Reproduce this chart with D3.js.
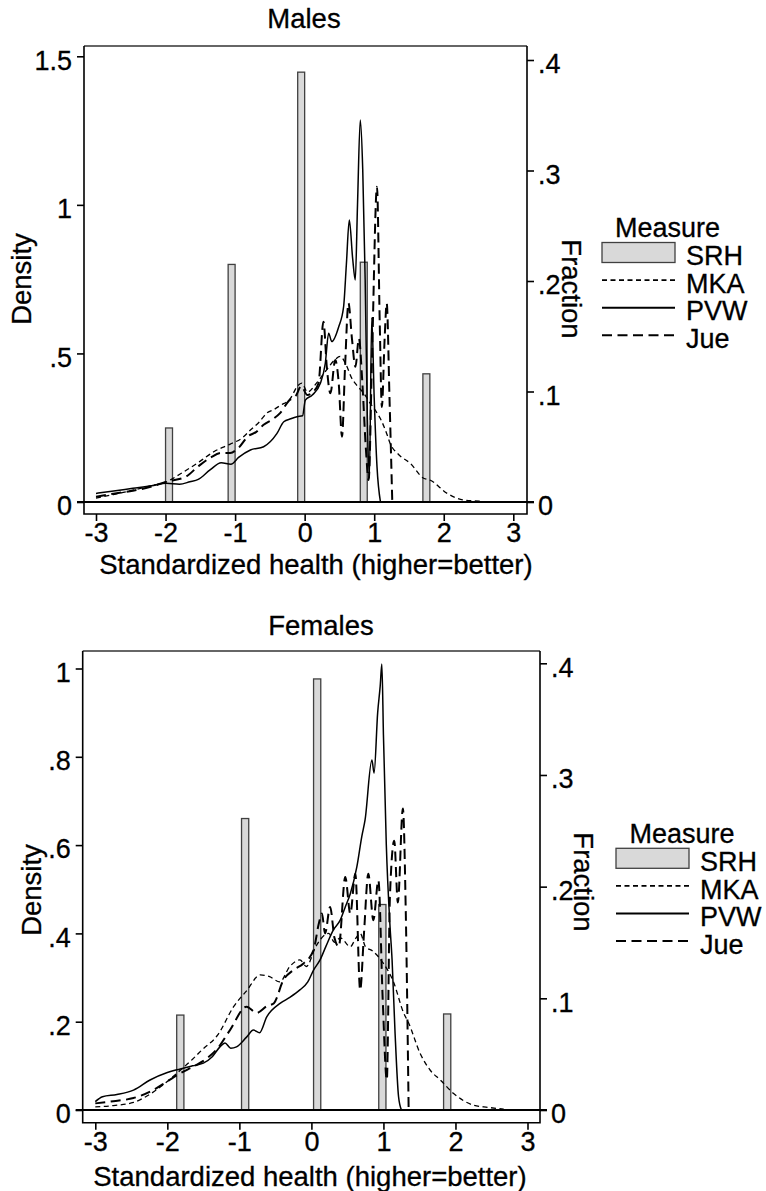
<!DOCTYPE html>
<html>
<head>
<meta charset="utf-8">
<script src="https://cdn.jsdelivr.net/npm/d3@7"></script>
<style>
  body { margin: 0; background: #fff; }
  svg text { font-family: "Liberation Sans", Arial, Helvetica, sans-serif; fill: #000; stroke: #000; stroke-width: 0.3px; }
</style>
</head>
<body>
<div id="chart"></div>
<script>
// ---- data ----
const xTicks = [-3, -2, -1, 0, 1, 2, 3];
const xTickLabels = ['-3', '-2', '-1', '0', '1', '2', '3'];
const fractionTicks = [0, 0.1, 0.2, 0.3, 0.4];
const fractionLabels = ['0', '.1', '.2', '.3', '.4'];
const malesDensityTicks = [0, 0.5, 1, 1.5];
const malesDensityLabels = ['0', '.5', '1', '1.5'];
const femalesDensityTicks = [0, 0.2, 0.4, 0.6, 0.8, 1];
const femalesDensityLabels = ['0', '.2', '.4', '.6', '.8', '1'];
const measures = ['SRH', 'MKA', 'PVW', 'Jue'];

// SRH histogram: bar centres and fractions
const malesSrhX = [-1.95, -1.05, -0.05, 0.85, 1.75];
const malesSrhFraction = [0.067, 0.215, 0.389, 0.217, 0.116];
const femalesSrhX = [-1.82, -0.92, 0.08, 0.985, 1.885];
const femalesSrhFraction = [0.085, 0.261, 0.386, 0.184, 0.086];

// kernel densities [x, density]
const malesMKA = [[-3, 0.013], [-2.75, 0.025], [-2.47, 0.04], [-2.2, 0.055], [-1.99, 0.068], [-1.75, 0.1],
  [-1.51, 0.136], [-1.3, 0.17], [-1.07, 0.195], [-0.9, 0.215], [-0.78, 0.242], [-0.65, 0.27], [-0.54, 0.3],
  [-0.45, 0.31], [-0.35, 0.325], [-0.2, 0.35], [-0.11, 0.388], [-0.04, 0.4], [0.04, 0.37], [0.17, 0.4],
  [0.3, 0.44], [0.44, 0.48], [0.51, 0.49], [0.6, 0.46], [0.67, 0.42], [0.76, 0.39], [0.85, 0.366],
  [0.95, 0.33], [1.04, 0.3], [1.09, 0.28], [1.18, 0.23], [1.23, 0.197], [1.35, 0.16], [1.52, 0.13],
  [1.71, 0.08], [1.8, 0.074], [2.05, 0.029], [2.28, 0.007], [2.52, 0.003]];
const malesPVW = [[-3, 0.029], [-2.8, 0.035], [-2.47, 0.046], [-2.2, 0.055], [-1.99, 0.063], [-1.8, 0.06],
  [-1.65, 0.068], [-1.53, 0.076], [-1.36, 0.108], [-1.2, 0.132], [-1.06, 0.127], [-0.95, 0.15], [-0.78, 0.175],
  [-0.59, 0.186], [-0.4, 0.23], [-0.3, 0.27], [-0.2, 0.28], [-0.11, 0.287], [-0.03, 0.29], [0.01, 0.343],
  [0.11, 0.36], [0.226, 0.4], [0.297, 0.467], [0.345, 0.568], [0.39, 0.54], [0.49, 0.59], [0.56, 0.657],
  [0.6, 0.8], [0.642, 0.949], [0.69, 0.82], [0.728, 0.747], [0.76, 1.0], [0.8, 1.286], [0.835, 1.12],
  [0.87, 0.75], [0.9, 0.3], [0.93, 0.08], [0.965, 0.62], [1.0, 0.35], [1.04, 0.12], [1.09, 0.0]];
const malesJue = [[-3, 0.018], [-2.75, 0.028], [-2.47, 0.038], [-2.2, 0.052], [-1.99, 0.068], [-1.71, 0.085],
  [-1.53, 0.12], [-1.35, 0.15], [-1.2, 0.165], [-1.07, 0.165], [-0.96, 0.18], [-0.81, 0.222], [-0.7, 0.235],
  [-0.59, 0.26], [-0.45, 0.28], [-0.35, 0.3], [-0.23, 0.34], [-0.12, 0.36], [-0.05, 0.39], [0.04, 0.36],
  [0.12, 0.37], [0.2, 0.4], [0.27, 0.607], [0.32, 0.45], [0.37, 0.366], [0.44, 0.478], [0.49, 0.4],
  [0.537, 0.22], [0.58, 0.45], [0.63, 0.669], [0.68, 0.55], [0.73, 0.455], [0.78, 0.55], [0.83, 0.4],
  [0.88, 0.18], [0.92, 0.074], [0.97, 0.5], [1.04, 1.061], [1.08, 0.6], [1.11, 0.32], [1.15, 0.55],
  [1.18, 0.669], [1.22, 0.35], [1.26, 0.0]];

const femalesMKA = [[-3, 0.007], [-2.75, 0.01], [-2.47, 0.017], [-2.3, 0.03], [-2.09, 0.053], [-1.82, 0.09],
  [-1.65, 0.115], [-1.52, 0.136], [-1.3, 0.17], [-1.08, 0.234], [-0.9, 0.27], [-0.71, 0.306], [-0.58, 0.302],
  [-0.44, 0.29], [-0.3, 0.325], [-0.16, 0.34], [-0.07, 0.325], [0.06, 0.37], [0.24, 0.4], [0.32, 0.38],
  [0.4, 0.39], [0.54, 0.37], [0.62, 0.39], [0.677, 0.4], [0.75, 0.37], [0.85, 0.36], [1.0, 0.332],
  [1.14, 0.29], [1.28, 0.22], [1.35, 0.197], [1.51, 0.128], [1.65, 0.09], [1.79, 0.068], [1.97, 0.038],
  [2.25, 0.011], [2.45, 0.006], [2.67, 0.002]];
const femalesPVW = [[-3, 0.019], [-2.9, 0.03], [-2.7, 0.035], [-2.47, 0.045], [-2.24, 0.068], [-2.0, 0.085],
  [-1.82, 0.093], [-1.65, 0.1], [-1.5, 0.106], [-1.38, 0.12], [-1.27, 0.143], [-1.2, 0.152], [-1.12, 0.14],
  [-1.04, 0.143], [-0.9, 0.165], [-0.805, 0.181], [-0.72, 0.175], [-0.62, 0.211], [-0.43, 0.242], [-0.3, 0.255],
  [-0.16, 0.272], [-0.05, 0.29], [0.03, 0.317], [0.12, 0.34], [0.2, 0.37], [0.305, 0.408], [0.4, 0.43],
  [0.47, 0.46], [0.54, 0.49], [0.63, 0.55], [0.7, 0.62], [0.745, 0.657], [0.84, 0.793], [0.87, 0.763],
  [0.92, 0.9], [0.955, 0.96], [0.978, 1.01], [1.0, 0.85], [1.04, 0.6], [1.09, 0.42], [1.12, 0.34],
  [1.16, 0.18], [1.21, 0.03], [1.25, 0.0]];
const femalesJue = [[-3, 0.015], [-2.75, 0.02], [-2.47, 0.027], [-2.2, 0.045], [-2.0, 0.065], [-1.82, 0.083],
  [-1.62, 0.1], [-1.45, 0.117], [-1.3, 0.14], [-1.13, 0.181], [-0.9, 0.234], [-0.76, 0.22], [-0.62, 0.235],
  [-0.52, 0.242], [-0.39, 0.294], [-0.25, 0.317], [-0.11, 0.332], [0.03, 0.362], [0.1, 0.42], [0.146, 0.445],
  [0.19, 0.4], [0.26, 0.46], [0.32, 0.39], [0.38, 0.37], [0.47, 0.528], [0.54, 0.445], [0.61, 0.535],
  [0.677, 0.272], [0.73, 0.4], [0.79, 0.535], [0.86, 0.43], [0.93, 0.52], [0.99, 0.25], [1.047, 0.068],
  [1.09, 0.483], [1.15, 0.61], [1.2, 0.47], [1.27, 0.683], [1.31, 0.45], [1.35, 0.0]];

// ---- styling ----
const barFill = '#d9d9d9';
const barStroke = '#404040';
const lineStyles = {
  MKA: { dash: '5,3.5', width: 1.3, legendWidth: 1.7 },
  PVW: { dash: null, width: 1.5, legendWidth: 2 },
  Jue: { dash: '10,5.5', width: 2, legendWidth: 2 }
};
const tickFont = 27;
const titleFont = 27.5;

const svg = d3.select('#chart').append('svg').attr('width', 766).attr('height', 1191);

const panels = [
  {
    title: 'Males', srhX: malesSrhX, srhFraction: malesSrhFraction,
    series: { MKA: malesMKA, PVW: malesPVW, Jue: malesJue },
    denTicks: malesDensityTicks, denLabels: malesDensityLabels,
    // pixel layout
    left: 84, right: 527, top: 46, bottom: 514, x0: 96, x1: 513.3,
    y0: 502, denTopY: 56.3, fracTopY: 60,
    titleX: 304, titleY: 28.3, xTitleX: 316, xTitleY: 574,
    denTitleX: 31, denTitleY: 279, fracTitleX: 562, fracTitleY: 289,
    legendX: 602, legendY: 252.5, legendTitleX: 667.5
  },
  {
    title: 'Females', srhX: femalesSrhX, srhFraction: femalesSrhFraction,
    series: { MKA: femalesMKA, PVW: femalesPVW, Jue: femalesJue },
    denTicks: femalesDensityTicks, denLabels: femalesDensityLabels,
    left: 82.7, right: 540, top: 651, bottom: 1122.7, x0: 95.3, x1: 527.5,
    y0: 1110, denTopY: 668.5, fracTopY: 663.3,
    titleX: 321, titleY: 635, xTitleX: 310, xTitleY: 1185.5,
    denTitleX: 41, denTitleY: 890, fracTitleX: 574, fracTitleY: 882,
    legendX: 616, legendY: 858.3, legendTitleX: 682
  }
];

function drawPanel(p) {
  const g = svg.append('g');

  const x = d3.scaleLinear().domain([-3, 3]).range([p.x0, p.x1]);
  const yDen = d3.scaleLinear()
    .domain([0, p.denTicks[p.denTicks.length - 1]])
    .range([p.y0, p.denTopY]);
  const yFrac = d3.scaleLinear()
    .domain([0, fractionTicks[fractionTicks.length - 1]])
    .range([p.y0, p.fracTopY]);

  // SRH bars (fraction, right axis)
  const barHalf = 0.05;
  g.append('g')
    .selectAll('rect')
    .data(p.srhX.map((c, i) => ({ c, f: p.srhFraction[i] })))
    .join('rect')
    .attr('x', (d) => x(d.c - barHalf))
    .attr('width', (d) => x(d.c + barHalf) - x(d.c - barHalf))
    .attr('y', (d) => yFrac(d.f))
    .attr('height', (d) => yFrac(0) - yFrac(d.f))
    .attr('fill', barFill)
    .attr('stroke', barStroke)
    .attr('stroke-width', 1.3);

  // density curves (left axis)
  const line = d3.line()
    .x((d) => x(d[0]))
    .y((d) => yDen(d[1]))
    .curve(d3.curveMonotoneX);

  ['MKA', 'PVW', 'Jue'].forEach((key) => {
    const st = lineStyles[key];
    g.append('path')
      .attr('d', line(p.series[key]))
      .attr('fill', 'none')
      .attr('stroke', '#000')
      .attr('stroke-width', st.width)
      .attr('stroke-dasharray', st.dash)
      .attr('stroke-linejoin', 'round');
  });

  // frame
  g.append('line')
    .attr('x1', p.left).attr('x2', p.right).attr('y1', p.top).attr('y2', p.top)
    .attr('stroke', '#333').attr('stroke-width', 1.3);
  g.append('path')
    .attr('d', `M${p.left},${p.top}V${p.bottom}H${p.right}V${p.top}`)
    .attr('fill', 'none').attr('stroke', '#000').attr('stroke-width', 1.6);

  // zero line
  g.append('line')
    .attr('x1', p.left - 7).attr('x2', p.right + 7)
    .attr('y1', yDen(0)).attr('y2', yDen(0))
    .attr('stroke', '#000').attr('stroke-width', 2);

  const styleAxis = (a) => {
    a.attr('font-family', null).attr('font-size', null);
    a.select('.domain').remove();
    a.selectAll('.tick line').attr('stroke', '#000').attr('stroke-width', 1.6);
    a.selectAll('.tick text').attr('font-size', tickFont).attr('fill', '#000');
  };

  // left density axis
  g.append('g')
    .attr('transform', `translate(${p.left},0)`)
    .call(d3.axisLeft(yDen).tickValues(p.denTicks).tickFormat((d, i) => p.denLabels[i]).tickSize(7).tickPadding(5))
    .call(styleAxis)
    .call((a) => a.selectAll('.tick text').attr('dy', '0.47em'));

  // right fraction axis
  g.append('g')
    .attr('transform', `translate(${p.right},0)`)
    .call(d3.axisRight(yFrac).tickValues(fractionTicks).tickFormat((d, i) => fractionLabels[i]).tickSize(7).tickPadding(4))
    .call(styleAxis)
    .call((a) => a.selectAll('.tick text').attr('dy', '0.47em'));

  // bottom x axis
  g.append('g')
    .attr('transform', `translate(0,${p.bottom})`)
    .call(d3.axisBottom(x).tickValues(xTicks).tickFormat((d, i) => xTickLabels[i]).tickSize(7).tickPadding(2))
    .call(styleAxis);

  // titles
  g.append('text')
    .attr('x', p.titleX).attr('y', p.titleY)
    .attr('text-anchor', 'middle').attr('font-size', titleFont)
    .text(p.title);

  g.append('text')
    .attr('x', p.xTitleX).attr('y', p.xTitleY)
    .attr('text-anchor', 'middle').attr('font-size', titleFont)
    .text('Standardized health (higher=better)');

  g.append('text')
    .attr('transform', `translate(${p.denTitleX},${p.denTitleY}) rotate(-90)`)
    .attr('text-anchor', 'middle').attr('font-size', titleFont)
    .text('Density');

  g.append('text')
    .attr('transform', `translate(${p.fracTitleX},${p.fracTitleY}) rotate(90)`)
    .attr('text-anchor', 'middle').attr('font-size', titleFont)
    .text('Fraction');

  // legend
  const lg = g.append('g');
  const rowGap = 27.6;
  const keyW = 73;
  lg.append('text')
    .attr('x', p.legendTitleX).attr('y', p.legendY - 15.5)
    .attr('text-anchor', 'middle').attr('font-size', tickFont)
    .text('Measure');

  measures.forEach((m, i) => {
    const cy = p.legendY + i * rowGap;
    if (m === 'SRH') {
      lg.append('rect')
        .attr('x', p.legendX).attr('y', cy - 10)
        .attr('width', keyW).attr('height', 20)
        .attr('fill', barFill).attr('stroke', barStroke).attr('stroke-width', 1.3);
    } else {
      const st = lineStyles[m];
      lg.append('line')
        .attr('x1', p.legendX).attr('x2', p.legendX + keyW)
        .attr('y1', cy).attr('y2', cy)
        .attr('stroke', '#000').attr('stroke-width', st.legendWidth)
        .attr('stroke-dasharray', st.dash);
    }
    lg.append('text')
      .attr('x', p.legendX + keyW + 11).attr('y', cy + 12.7)
      .attr('font-size', tickFont)
      .text(m);
  });
}

panels.forEach(drawPanel);
</script>
</body>
</html>
